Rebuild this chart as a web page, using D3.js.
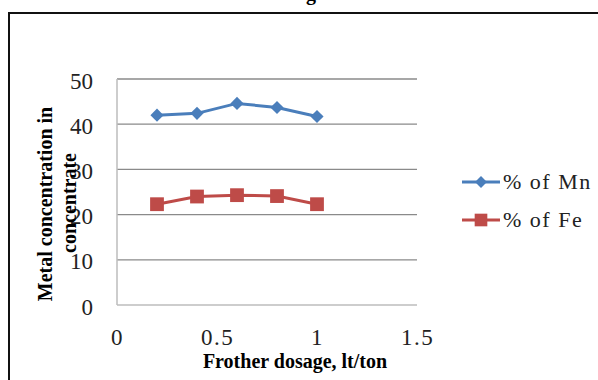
<!DOCTYPE html>
<html>
<head>
<meta charset="utf-8">
<script src="https://cdn.jsdelivr.net/npm/d3@7"></script>
<style>
  body { margin: 0; background: #fff; }
  svg { display: block; font-family: "Liberation Serif", "Times New Roman", serif; }
</style>
</head>
<body>
<script>
// data
var dosage = [0.2, 0.4, 0.6, 0.8, 1.0];
var mnValues = [42.0, 42.4, 44.6, 43.7, 41.7];
var feValues = [22.3, 24.0, 24.3, 24.1, 22.3];
var seriesNames = ["% of Mn", "% of Fe"];
var xTicks = [0, 0.5, 1, 1.5];
var yTicks = [0, 10, 20, 30, 40, 50];

var W = 598, H = 380;
var margin = {top: 79, right: 181, bottom: 75, left: 117};
var width = W - margin.left - margin.right;
var height = H - margin.top - margin.bottom;

var svg = d3.select("body").append("svg")
  .attr("width", W)
  .attr("height", H);

// outer frame of the figure (cut by the window)
svg.append("rect")
  .attr("x", 9).attr("y", 13)
  .attr("width", W + 10).attr("height", H + 10)
  .attr("fill", "none")
  .attr("stroke", "#111")
  .attr("stroke-width", 2);

// bit of the title that was cropped
svg.append("text")
  .attr("x", 311).attr("y", 0)
  .attr("text-anchor", "middle")
  .style("font-weight", "bold")
  .style("font-size", "20px")
  .text("g");

var g = svg.append("g")
  .attr("transform", "translate(" + margin.left + "," + margin.top + ")");

var x = d3.scaleLinear().domain([0, 1.5]).range([0, width]);
var y = d3.scaleLinear().domain([0, 50]).range([height, 0]);

// horizontal grid lines
g.append("g")
  .selectAll("line")
  .data(yTicks.filter(function (d) { return d > 0; }))
  .enter().append("line")
  .attr("x1", 0).attr("x2", width)
  .attr("y1", function (d) { return y(d); })
  .attr("y2", function (d) { return y(d); })
  .attr("stroke", "#8a8a8a")
  .attr("stroke-width", 1.3);

// axis lines
g.append("line")
  .attr("x1", 0).attr("x2", width)
  .attr("y1", height).attr("y2", height)
  .attr("stroke", "#bdbdbd").attr("stroke-width", 1.5);
g.append("line")
  .attr("x1", 0).attr("x2", 0)
  .attr("y1", 0).attr("y2", height)
  .attr("stroke", "#bdbdbd").attr("stroke-width", 1.5);

// y axis labels
var yAxis = g.append("g")
  .call(d3.axisLeft(y).tickValues(yTicks).tickSize(0).tickPadding(24));
yAxis.select(".domain").remove();
yAxis.selectAll("text")
  .attr("dy", "9px")
  .style("font-family", "Liberation Serif, serif")
  .style("font-size", "23px")
  .attr("fill", "#222");

// x axis labels
var xAxis = g.append("g")
  .attr("transform", "translate(0," + height + ")")
  .call(d3.axisBottom(x).tickValues(xTicks).tickSize(0)
    .tickFormat(function (d) { return String(d); }));
xAxis.select(".domain").remove();
xAxis.selectAll("text")
  .attr("y", 40)
  .attr("dy", 0)
  .style("font-family", "Liberation Serif, serif")
  .style("font-size", "23px")
  .style("letter-spacing", "1.5px")
  .attr("fill", "#222");

// axis titles
svg.append("text")
  .attr("x", 295).attr("y", 368)
  .attr("text-anchor", "middle")
  .style("font-weight", "bold")
  .style("font-size", "20px")
  .text("Frother dosage, lt/ton");

svg.append("text")
  .attr("transform", "translate(52,204) rotate(-90)")
  .attr("text-anchor", "middle")
  .style("font-weight", "bold")
  .style("font-size", "20px")
  .text("Metal concentration in");
svg.append("text")
  .attr("transform", "translate(76,203) rotate(-90)")
  .attr("text-anchor", "middle")
  .style("font-weight", "bold")
  .style("font-size", "20px")
  .text("concentrate");

var colors = ["#4a7ebb", "#be4b48"];
var line = d3.line()
  .x(function (d, i) { return x(dosage[i]); })
  .y(function (d) { return y(d); });

var diamond = d3.symbol().type(d3.symbolDiamond2).size(110);
var square = d3.symbol().type(d3.symbolSquare).size(190);

[mnValues, feValues].forEach(function (vals, k) {
  g.append("path")
    .datum(vals)
    .attr("d", line)
    .attr("fill", "none")
    .attr("stroke", colors[k])
    .attr("stroke-width", 3);
  g.selectAll(".pt" + k)
    .data(vals)
    .enter().append("path")
    .attr("class", "pt" + k)
    .attr("transform", function (d, i) {
      return "translate(" + x(dosage[i]) + "," + y(d) + ")";
    })
    .attr("d", k === 0 ? diamond : square)
    .attr("fill", colors[k]);
});

// legend
var legend = svg.append("g");
seriesNames.forEach(function (name, k) {
  var ly = 182 + k * 38;
  legend.append("line")
    .attr("x1", 462).attr("x2", 500)
    .attr("y1", ly).attr("y2", ly)
    .attr("stroke", colors[k]).attr("stroke-width", 3);
  legend.append("path")
    .attr("transform", "translate(481," + ly + ")")
    .attr("d", k === 0 ? d3.symbol().type(d3.symbolDiamond2).size(90)() : d3.symbol().type(d3.symbolSquare).size(160)())
    .attr("fill", colors[k]);
  legend.append("text")
    .attr("x", 503).attr("y", ly + 7)
    .style("font-size", "22px")
    .style("letter-spacing", "1.5px")
    .attr("fill", "#222")
    .text(name);
});
</script>
</body>
</html>
